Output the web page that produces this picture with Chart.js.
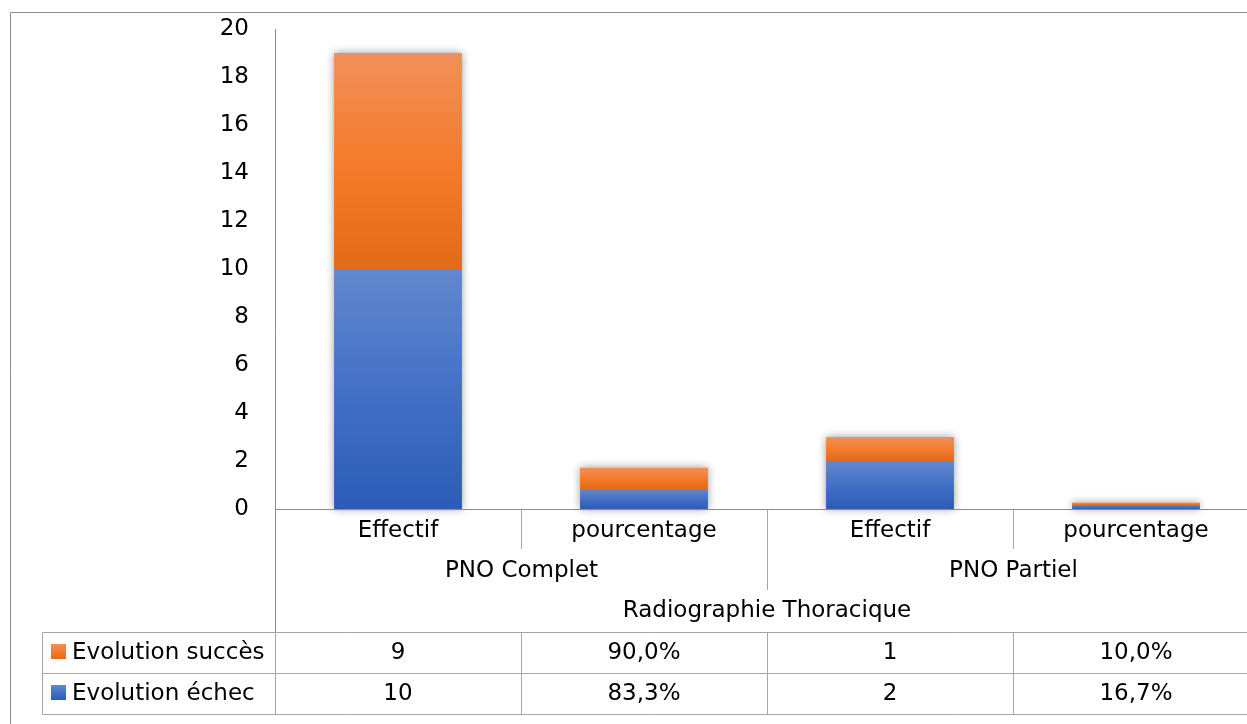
<!DOCTYPE html>
<html>
<head>
<meta charset="utf-8">
<script src="https://cdn.jsdelivr.net/npm/chart.js@4/dist/chart.umd.min.js"></script>
<style>
  html, body { margin: 0; padding: 0; background: #fff; overflow: hidden; }
  #wrap { width: 1262px; height: 724px; position: relative; }
  canvas { display: block; }
</style>
</head>
<body>
<div id="wrap"><canvas id="c" width="1262" height="724"></canvas></div>
<script>
const categories = ['Effectif', 'pourcentage', 'Effectif', 'pourcentage'];
const groups = ['PNO Complet', 'PNO Partiel'];
const axisTitle = 'Radiographie Thoracique';
const seriesEchecName = 'Evolution échec';
const seriesSuccesName = 'Evolution succès';
const echec = [10, 0.833, 2, 0.167];
const succes = [9, 0.9, 1, 0.1];
const echecLabels = ['10', '83,3%', '2', '16,7%'];
const succesLabels = ['9', '90,0%', '1', '10,0%'];

const FONT = '"DejaVu Sans", sans-serif';
const FS = 23;

const orangeStops = ['#F18F5A', '#F47C2C', '#E36A17'];
const blueStops = ['#6288CD', '#4470C6', '#2C5CB7'];

function gradFor(ctx, stops) {
  const chart = ctx.chart;
  const y = chart.scales.y;
  if (!y || ctx.dataIndex === undefined) return stops[1];
  const dsi = ctx.datasetIndex, i = ctx.dataIndex;
  let bottom = 0;
  for (let d = 0; d < dsi; d++) bottom += chart.data.datasets[d].data[i];
  const top = bottom + chart.data.datasets[dsi].data[i];
  const y0 = y.getPixelForValue(top), y1 = y.getPixelForValue(bottom);
  if (!isFinite(y0) || !isFinite(y1) || y0 === y1) return stops[1];
  const g = chart.ctx.createLinearGradient(0, y0, 0, y1);
  g.addColorStop(0, stops[0]);
  g.addColorStop(0.5, stops[1]);
  g.addColorStop(1, stops[2]);
  return g;
}

const shadowPlugin = {
  id: 'shadowPlugin',
  beforeDatasetsDraw(chart) {
    const ctx = chart.ctx;
    ctx.save();
    ctx.shadowColor = 'rgba(0,0,0,0.4)';
    ctx.shadowBlur = 8;
    ctx.shadowOffsetX = 0;
    ctx.shadowOffsetY = 0;
    ctx.fillStyle = '#ffffff';
    chart.data.datasets.forEach((ds, di) => {
      chart.getDatasetMeta(di).data.forEach(el => {
        const w = el.width;
        const top = Math.min(el.y, el.base), h = Math.abs(el.base - el.y);
        if (h > 0) ctx.fillRect(el.x - w / 2, top, w, h);
      });
    });
    ctx.restore();
  }
};

const tablePlugin = {
  id: 'tablePlugin',
  afterDraw(chart) {
    const ctx = chart.ctx;
    const xs = chart.scales.x;
    const area = chart.chartArea;
    const L = area.left, R = area.right, B = area.bottom, T = area.top;
    const n = categories.length;
    const cw = (R - L) / n;
    const edge = k => Math.round(L + k * cw) + 0.5;
    const tableTop = 632.5, tableMid = 673.5, tableBot = 714.5, tableLeft = 42.5;

    ctx.save();
    ctx.strokeStyle = '#8c8c8c';
    ctx.lineWidth = 1;
    ctx.beginPath();
    ctx.moveTo(10.5, 724);
    ctx.lineTo(10.5, 12.5);
    ctx.lineTo(1262, 12.5);
    ctx.stroke();

    ctx.strokeStyle = '#8c8c8c';
    ctx.beginPath();
    ctx.moveTo(Math.round(L) + 0.5, T);
    ctx.lineTo(Math.round(L) + 0.5, tableTop);
    ctx.moveTo(L, Math.round(B) + 0.5);
    ctx.lineTo(1262, Math.round(B) + 0.5);
    ctx.stroke();

    ctx.strokeStyle = '#a6a6a6';
    ctx.beginPath();
    for (let k = 1; k <= n; k++) {
      const x = edge(k);
      const lower = (k % 2 === 0) ? 590 : 549;
      ctx.moveTo(x, Math.round(B) + 0.5);
      ctx.lineTo(x, lower);
    }
    ctx.stroke();

    ctx.fillStyle = '#000';
    ctx.font = FS + 'px ' + FONT;
    ctx.textAlign = 'center';
    ctx.textBaseline = 'alphabetic';
    categories.forEach((c, i) => ctx.fillText(c, xs.getPixelForValue(i), 537));
    groups.forEach((g, gi) => ctx.fillText(g, (edge(gi * 2) + edge(gi * 2 + 2)) / 2, 577));
    ctx.fillText(axisTitle, (L + R) / 2, 617);

    ctx.strokeStyle = '#a6a6a6';
    ctx.beginPath();
    [tableTop, tableMid, tableBot].forEach(y => { ctx.moveTo(tableLeft, y); ctx.lineTo(1262, y); });
    ctx.moveTo(tableLeft, tableTop); ctx.lineTo(tableLeft, tableBot);
    for (let k = 0; k <= n; k++) { ctx.moveTo(edge(k), tableTop); ctx.lineTo(edge(k), tableBot); }
    ctx.stroke();

    const rows = [
      { name: seriesSuccesName, stops: orangeStops, vals: succesLabels, base: 659 },
      { name: seriesEchecName, stops: blueStops, vals: echecLabels, base: 700 }
    ];
    rows.forEach(r => {
      const ky = r.base - 15;
      const g = ctx.createLinearGradient(0, ky, 0, ky + 15);
      g.addColorStop(0, r.stops[0]); g.addColorStop(0.5, r.stops[1]); g.addColorStop(1, r.stops[2]);
      ctx.fillStyle = g;
      ctx.fillRect(51, ky, 15, 15);
      ctx.fillStyle = '#000';
      ctx.textAlign = 'left';
      ctx.fillText(r.name, 72, r.base);
      ctx.textAlign = 'center';
      r.vals.forEach((v, i) => ctx.fillText(v, xs.getPixelForValue(i), r.base));
    });
    ctx.restore();
  }
};

new Chart(document.getElementById('c'), {
  type: 'bar',
  data: {
    labels: categories,
    datasets: [
      { label: seriesEchecName, data: echec, backgroundColor: c => gradFor(c, blueStops), borderWidth: 0 },
      { label: seriesSuccesName, data: succes, backgroundColor: c => gradFor(c, orangeStops), borderWidth: 0 }
    ]
  },
  options: {
    responsive: false,
    maintainAspectRatio: false,
    animation: false,
    devicePixelRatio: 1,
    layout: { autoPadding: false, padding: { top: 29, left: 0, right: 3, bottom: 215 } },
    datasets: { bar: { barPercentage: 0.52, categoryPercentage: 1 } },
    plugins: { legend: { display: false }, tooltip: { enabled: false } },
    scales: {
      x: { stacked: true, display: false },
      y: {
        stacked: true,
        min: 0, max: 20,
        ticks: { stepSize: 2, color: '#000', font: { family: FONT, size: FS }, padding: 26 },
        grid: { display: false, drawTicks: false },
        border: { display: false },
        afterFit: s => { s.width = 275; s.paddingTop = 0; s.paddingBottom = 0; }
      }
    }
  },
  plugins: [shadowPlugin, tablePlugin]
});
</script>
</body>
</html>
